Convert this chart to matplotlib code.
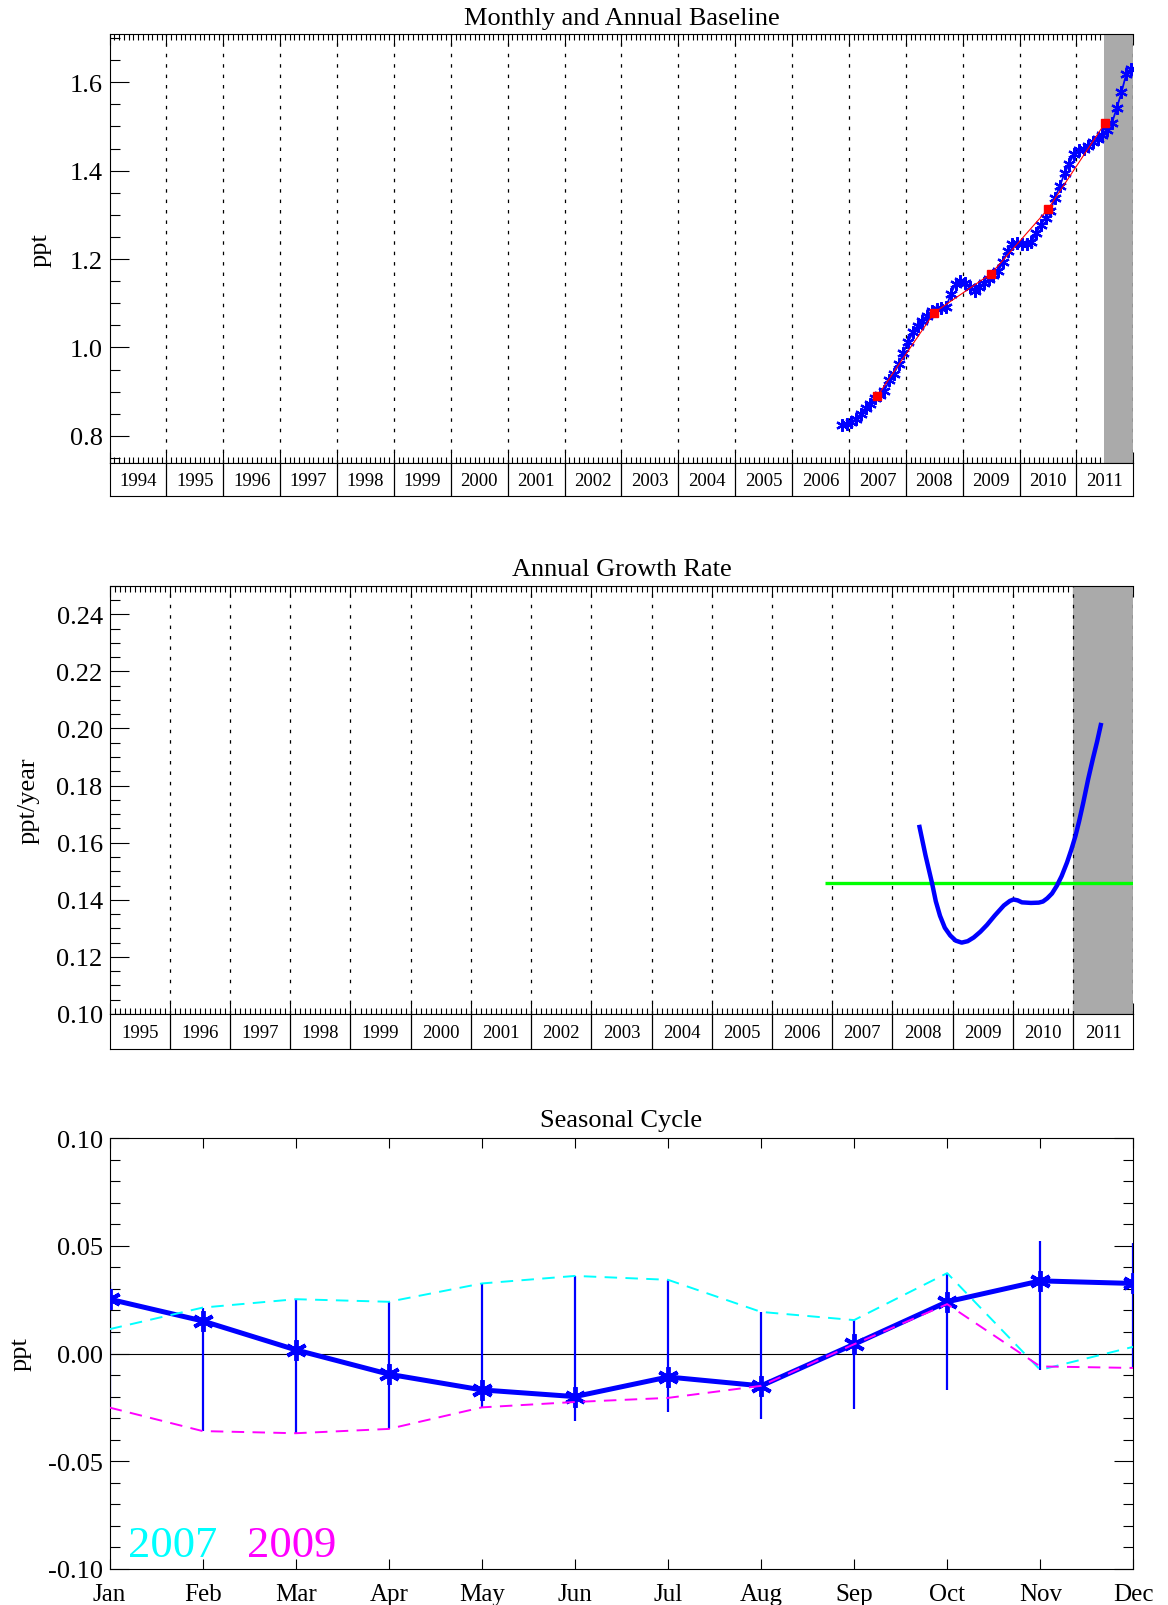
import numpy as np
import matplotlib.pyplot as plt
from matplotlib.ticker import MultipleLocator, FormatStrFormatter

plt.rcParams['font.family'] = ['Liberation Serif', 'DejaVu Serif']
plt.rcParams['lines.scale_dashes'] = False
plt.rcParams['axes.unicode_minus'] = False

# monthly baseline, Nov 2006 .. Dec 2011 (ppt)
first_month = 2006 + 10.5 / 12
monthly = [0.824, 0.826, 0.831, 0.838, 0.849, 0.862, 0.872, 0.885, 0.892, 0.902,
           0.926, 0.941, 0.962, 0.988, 1.013, 1.034, 1.048, 1.060, 1.072, 1.082,
           1.087, 1.090, 1.091, 1.121, 1.144, 1.151, 1.146, 1.136, 1.127, 1.136,
           1.146, 1.154, 1.163, 1.172, 1.193, 1.219, 1.233, 1.236, 1.234, 1.234,
           1.238, 1.258, 1.277, 1.293, 1.309, 1.339, 1.365, 1.394, 1.416, 1.438,
           1.447, 1.450, 1.456, 1.465, 1.472, 1.480, 1.491, 1.508, 1.541, 1.577,
           1.618, 1.629]
annual_years = [2007, 2008, 2009, 2010, 2011]
annual_means = [0.890, 1.079, 1.167, 1.313, 1.507]

# annual growth rate (ppt/year)
growth_t = [2008.45, 2008.55, 2008.66, 2008.72, 2008.79, 2008.87, 2008.96, 2009.05,
            2009.15, 2009.25, 2009.35, 2009.46, 2009.57, 2009.70, 2009.85, 2009.95,
            2010.01, 2010.08, 2010.15, 2010.30, 2010.43, 2010.50, 2010.57, 2010.65,
            2010.73, 2010.81, 2010.90, 2010.97, 2011.04, 2011.10, 2011.17, 2011.25,
            2011.33, 2011.40, 2011.46]
growth_v = [0.1655, 0.1555, 0.1456, 0.1395, 0.1344, 0.1302, 0.1275, 0.1257,
            0.1250, 0.1255, 0.1268, 0.1288, 0.1312, 0.1345, 0.1380, 0.1396,
            0.1401, 0.1398, 0.1391, 0.1389, 0.1390, 0.1394, 0.1405, 0.1422,
            0.1449, 0.1483, 0.1531, 0.1575, 0.1624, 0.1675, 0.1741, 0.1822,
            0.1895, 0.1955, 0.2012]
mean_growth = 0.146

# seasonal cycle
month_names = ['Jan', 'Feb', 'Mar', 'Apr', 'May', 'Jun',
               'Jul', 'Aug', 'Sep', 'Oct', 'Nov', 'Dec']
season_mean = [0.0252, 0.0151, 0.0017, -0.0096, -0.0169, -0.0200,
               -0.0109, -0.0150, 0.0043, 0.0240, 0.0337, 0.0325]
season_hi = [0.0334, 0.0213, 0.0252, 0.0240, 0.0325, 0.0360,
             0.0342, 0.0193, 0.0155, 0.0373, 0.0523, 0.0512]
season_lo = [-0.0251, -0.0360, -0.0370, -0.0350, -0.0250, -0.0313,
             -0.0270, -0.0305, -0.0259, -0.0169, -0.0076, -0.0067]
season_2007 = [0.0113, 0.0213, 0.0252, 0.0240, 0.0325, 0.0360,
               0.0342, 0.0193, 0.0155, 0.0373, -0.0076, 0.0031]
season_2009 = [-0.0251, -0.0360, -0.0370, -0.0350, -0.0250, -0.0225,
               -0.0206, -0.0150, 0.0043, 0.0229, -0.0060, -0.0067]

W, H = 1168, 1606
fig = plt.figure(figsize=(W / 100, H / 100), dpi=100)


def box(left, top, right, bottom):
    return [left / W, 1 - bottom / H, (right - left) / W, (bottom - top) / H]


def time_panel(ax, strip, first, last, shade_from, ylim, major, minor, fmt):
    ax.set_xlim(first, last)
    ax.set_ylim(*ylim)
    ax.xaxis.set_major_locator(MultipleLocator(1))
    ax.xaxis.set_minor_locator(MultipleLocator(1 / 12))
    ax.yaxis.set_major_locator(MultipleLocator(major))
    ax.yaxis.set_minor_locator(MultipleLocator(minor))
    ax.yaxis.set_major_formatter(FormatStrFormatter(fmt))
    ax.tick_params(axis='x', which='both', direction='in', top=True, bottom=True,
                   labelbottom=False, width=0.8)
    ax.tick_params(axis='x', which='major', length=8)
    ax.tick_params(axis='x', which='minor', length=4)
    ax.tick_params(axis='y', which='both', direction='in', left=True, right=False,
                   labelsize=19, pad=5, width=0.8)
    ax.tick_params(axis='y', which='major', length=14)
    ax.tick_params(axis='y', which='minor', length=7)
    for yr in range(first + 1, last + 1):
        ax.axvline(yr, color='k', lw=0.9, dashes=(2.5, 5), zorder=4)
    ax.axvspan(shade_from, last, color='#aaaaaa', lw=0, zorder=3)
    for sp in ax.spines.values():
        sp.set_zorder(5)
        sp.set_linewidth(0.8)
    ax.spines['right'].set_visible(False)

    strip.set_xlim(first, last)
    strip.set_ylim(0, 1)
    strip.set_xticks([])
    strip.set_yticks([])
    for sp in strip.spines.values():
        sp.set_linewidth(0.8)
    for yr in range(first + 1, last):
        strip.axvline(yr, color='k', lw=0.9)
    for yr in range(first, last):
        strip.text(yr + 0.5, 0.48, str(yr), ha='center', va='center', fontsize=13.5)


# --- monthly and annual baseline
ax1 = fig.add_axes(box(109.6, 35, 1133.3, 464.3))
strip1 = fig.add_axes(box(109.6, 464.3, 1133.3, 496.7))
time_panel(ax1, strip1, 1994, 2012, 2011.48, (0.738, 1.709), 0.2, 0.05, '%.1f')
t = first_month + np.arange(len(monthly)) / 12
ax1.plot(t, monthly, color='blue', lw=1.3, marker=(6, 2, 0), ms=9, mew=1.6, zorder=6)
ax1.plot(np.array(annual_years) + 0.5, annual_means, color='red', lw=0.8,
         marker='s', ms=5.5, mec='red', zorder=7)

# --- annual growth rate
ax2 = fig.add_axes(box(109.6, 586.7, 1133.3, 1015))
strip2 = fig.add_axes(box(109.6, 1015, 1133.3, 1050))
time_panel(ax2, strip2, 1995, 2012, 2011.0, (0.10, 0.25), 0.02, 0.005, '%.2f')
ax2.hlines(mean_growth, first_month, 2012, color=(0, 1, 0), lw=2.4, zorder=5)
ax2.plot(growth_t, growth_v, color='blue', lw=3.2, zorder=6, solid_joinstyle='round')

# --- seasonal cycle
ax3 = fig.add_axes(box(109.6, 1139, 1133.3, 1570))
m = np.arange(12)
ax3.set_xlim(0, 11)
ax3.set_ylim(-0.10, 0.10)
ax3.axhline(0, color='k', lw=0.8, zorder=1)
ax3.vlines(m, season_lo, season_hi, color='blue', lw=1.6, zorder=2)
ax3.plot(m, season_mean, color='blue', lw=3.6, marker=(6, 2, 0), ms=15, mew=2.8, zorder=3)
ax3.plot(m, season_2007, color='cyan', lw=1.4, dashes=(9, 6), zorder=4)
ax3.plot(m, season_2009, color='magenta', lw=1.4, dashes=(9, 6), zorder=4)
ax3.set_xticks(m)
ax3.set_xticklabels(month_names)
ax3.yaxis.set_major_locator(MultipleLocator(0.05))
ax3.yaxis.set_minor_locator(MultipleLocator(0.01))
ax3.yaxis.set_major_formatter(FormatStrFormatter('%.2f'))
ax3.tick_params(axis='x', direction='in', top=True, bottom=True, length=7,
                width=0.8, labelsize=18, pad=10)
ax3.tick_params(axis='y', which='both', direction='in', left=True, right=True,
                labelsize=19, pad=5, width=0.8)
ax3.tick_params(axis='y', which='major', length=14)
ax3.tick_params(axis='y', which='minor', length=7)
for sp in ax3.spines.values():
    sp.set_linewidth(0.8)
ax3.text(0.0176, 0.03, '2007', color='cyan', fontsize=32, transform=ax3.transAxes,
         ha='left', va='baseline')
ax3.text(0.134, 0.03, '2009', color='magenta', fontsize=32, transform=ax3.transAxes,
         ha='left', va='baseline')

# titles and axis labels
xc = (109.6 + 1133.3) / 2 / W
fig.text(xc, 1 - 19 / H, 'Monthly and Annual Baseline', ha='center', va='center', fontsize=19)
fig.text(xc, 1 - 570.5 / H, 'Annual Growth Rate', ha='center', va='center', fontsize=19)
fig.text(xc, 1 - 1121 / H, 'Seasonal Cycle', ha='center', va='center', fontsize=19)
fig.text(41 / W, 1 - 249.6 / H, 'ppt', rotation=90, ha='center', va='center', fontsize=19)
fig.text(28.7 / W, 1 - 801 / H, 'ppt/year', rotation=90, ha='center', va='center', fontsize=19)
fig.text(20.5 / W, 1 - 1354.5 / H, 'ppt', rotation=90, ha='center', va='center', fontsize=19)

fig.savefig('out.png', dpi=100)
